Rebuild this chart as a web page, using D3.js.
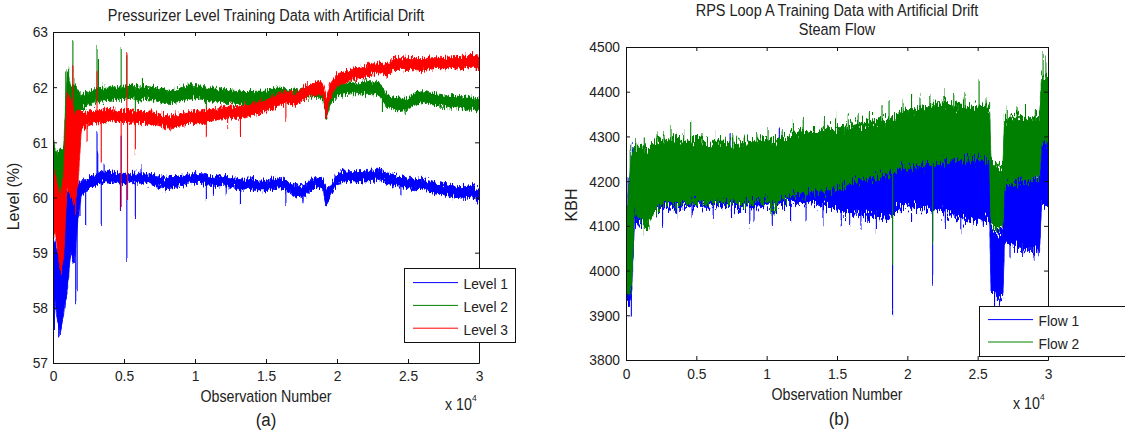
<!DOCTYPE html>
<html>
<head>
<meta charset="utf-8">
<script src="https://cdn.jsdelivr.net/npm/d3@7"></script>
<style>
  body { margin: 0; background: #fff; }
  svg { display: block; }
  text { font-family: "Liberation Sans", Arial, sans-serif; fill: #222; }
</style>
</head>
<body>
<svg id="fig" width="1125" height="432"></svg>
<script>
// ---------- shared axis values ----------
const xTicks = [0, 5000, 10000, 15000, 20000, 25000, 30000];
const xTickLabels = ["0", "0.5", "1", "1.5", "2", "2.5", "3"];

// ---------- (a) pressurizer level: sample grid with low/high envelope per series ----------
const levelObs = [0,250,500,750,1000,1250,1500,1750,
  2000,2500,3000,3500,4000,4500,5000,5500,6000,6500,7000,7500,8000,8500,9000,9500,
  10000,10500,11000,11500,12000,12500,13000,13500,14000,14500,15000,15500,16000,16500,
  17000,17500,18000,18500,19000,19250,19500,20000,20500,21000,21500,22000,22500,23000,
  23500,24000,24500,25000,25500,26000,26500,27000,27500,28000,28500,29000,29500,30000];

const level1Lo = [58.4,57.9,57.5,57.9,58.3,59.0,58.8,59.6,
  60.05,60.15,60.22,60.28,60.28,60.27,60.25,60.27,60.26,60.26,60.22,60.2,60.15,60.18,60.22,60.24,
  60.26,60.25,60.22,60.2,60.22,60.18,60.16,60.15,60.14,60.12,60.12,60.16,60.18,60.12,
  60.05,59.98,60.08,60.2,60.15,59.85,60.0,60.25,60.28,60.3,60.3,60.3,60.31,60.32,
  60.26,60.22,60.2,60.16,60.14,60.15,60.1,60.06,60.05,60.02,60.0,59.98,60.0,59.92];
const level1Hi = [59.3,59.1,58.9,59.6,60.1,60.3,60.4,60.3,
  60.3,60.35,60.42,60.48,60.47,60.45,60.42,60.44,60.44,60.43,60.42,60.38,60.35,60.37,60.4,60.42,
  60.44,60.43,60.4,60.38,60.4,60.36,60.35,60.33,60.34,60.3,60.3,60.34,60.36,60.3,
  60.25,60.2,60.3,60.38,60.34,60.15,60.2,60.43,60.46,60.47,60.47,60.47,60.48,60.5,
  60.45,60.42,60.38,60.35,60.34,60.33,60.3,60.26,60.24,60.22,60.2,60.2,60.22,60.15];

const level2Lo = [60.1,60.0,59.95,60.0,61.2,61.2,61.4,61.5,
  61.6,61.68,61.72,61.75,61.76,61.78,61.78,61.8,61.76,61.78,61.76,61.74,61.7,61.72,61.75,61.78,
  61.79,61.78,61.75,61.74,61.72,61.72,61.7,61.68,61.68,61.7,61.7,61.74,61.78,61.74,
  61.7,61.76,61.8,61.84,61.78,61.45,61.65,61.84,61.86,61.88,61.88,61.88,61.88,61.86,
  61.64,61.6,61.58,61.6,61.68,61.72,61.7,61.66,61.65,61.64,61.62,61.6,61.6,61.56];
const level2Hi = [61.05,60.8,60.85,60.9,62.3,62.0,62.1,61.95,
  61.85,61.92,61.96,62.0,62.0,62.0,62.02,62.04,62.0,62.02,62.0,61.98,61.94,61.96,61.99,62.02,
  62.03,62.02,61.99,61.98,61.96,61.95,61.94,61.92,61.92,61.93,61.93,61.97,62.0,61.97,
  61.93,61.98,62.02,62.06,62.0,61.75,61.9,62.05,62.07,62.08,62.08,62.1,62.1,62.08,
  61.86,61.82,61.8,61.8,61.9,61.94,61.9,61.88,61.86,61.85,61.84,61.82,61.82,61.78];

const level3Lo = [59.5,59.2,58.7,58.9,60.2,60.0,59.9,60.2,
  61.25,61.3,61.35,61.36,61.38,61.36,61.36,61.35,61.34,61.34,61.33,61.3,61.26,61.27,61.3,61.33,
  61.36,61.35,61.38,61.4,61.43,61.44,61.43,61.46,61.5,61.52,61.56,61.62,61.68,61.7,
  61.66,61.74,61.82,61.88,61.86,61.5,61.8,62.02,62.08,62.12,62.15,62.2,62.24,62.26,
  62.2,62.32,62.32,62.3,62.32,62.3,62.32,62.34,62.33,62.34,62.35,62.34,62.36,62.3];
const level3Hi = [60.6,60.3,60.0,60.4,61.9,61.8,61.5,61.6,
  61.55,61.55,61.58,61.6,61.6,61.58,61.58,61.57,61.56,61.56,61.55,61.52,61.48,61.49,61.52,61.55,
  61.58,61.57,61.6,61.62,61.65,61.66,61.64,61.67,61.7,61.73,61.77,61.84,61.9,61.92,
  61.88,61.96,62.04,62.1,62.08,61.8,62.05,62.24,62.28,62.32,62.35,62.38,62.42,62.46,
  62.4,62.54,62.54,62.52,62.52,62.52,62.53,62.54,62.54,62.55,62.56,62.56,62.6,62.56];

// isolated excursions: [observation, extreme value]
const level1Spikes = [[100,57.6],[400,57.5],[900,58.2],[1600,58.1],[1700,58.3],[1900,59.7],[2300,59.5],
  [3100,61.2],[3150,60.8],[3400,59.5],[3600,60.6],[4750,59.8],[4800,61.1],[5200,58.85],[5800,59.65],
  [6200,60.55],[10800,59.93],[11300,60.05],[12200,60.05],[13200,59.9],[16400,59.88],[17600,59.95],
  [19200,59.83],[23000,60.55],[24500,60.05]];
const level2Spikes = [[50,61.05],[900,62.3],[1100,62.35],[1250,61.2],[1400,62.83],[3100,62.73],[3200,62.5],
  [4800,62.7],[5200,62.55],[5800,61.3],[6300,62.2],[10800,61.5],[19200,61.42],[23200,61.55],[24800,61.5]];
const level3Spikes = [[600,58.6],[1000,61.9],[1400,62.4],[1600,59.7],[2400,61.0],[3100,62.3],[3400,60.6],
  [4800,59.8],[5200,62.6],[5250,59.95],[5800,60.8],[8300,61.2],[10800,61.1],[12300,61.3],[13200,61.15],
  [16400,61.4],[19200,61.45],[29500,62.62]];

// ---------- (b) steam flow ----------
const flowObs = [0,200,400,600,800,1000,1500,
  2000,2500,3000,3500,4000,4500,5000,5500,6000,6500,7000,7500,8000,8500,9000,9500,
  10000,10500,11000,11500,12000,12500,13000,13500,14000,14500,15000,15500,16000,16500,
  17000,17500,18000,18500,19000,19500,20000,20500,21000,21500,22000,22500,23000,23500,
  24000,24500,25000,25500,25850,25950,26500,26800,26900,27500,28000,28500,29000,29400,29550,30000];

const flow1Lo = [3930,3920,3950,4105,4100,4105,4115,
  4130,4140,4140,4138,4140,4142,4145,4142,4140,4145,4145,4145,4140,4142,4142,4145,
  4145,4135,4148,4150,4150,4150,4148,4150,4145,4140,4135,4130,4128,4125,
  4122,4120,4118,4120,4125,4140,4145,4142,4140,4140,4135,4130,4125,4120,
  4115,4112,4110,4112,4115,3950,3935,3940,4060,4055,4050,4045,4045,4040,4150,4150];
const flow1Hi = [4100,4180,4260,4280,4270,4275,4270,
  4280,4285,4280,4285,4280,4280,4285,4280,4275,4280,4280,4275,4275,4280,4280,4285,
  4285,4280,4285,4285,4290,4285,4280,4280,4280,4275,4270,4260,4255,4255,
  4250,4250,4250,4250,4255,4260,4265,4265,4265,4268,4270,4270,4265,4265,
  4260,4255,4255,4250,4250,4090,4085,4090,4210,4205,4200,4200,4205,4205,4300,4290];

const flow2Lo = [3950,3945,3960,4140,4120,4110,4095,
  4130,4150,4150,4145,4150,4150,4155,4150,4150,4155,4155,4155,4150,4150,4155,4160,
  4155,4140,4160,4165,4170,4170,4175,4180,4175,4180,4185,4190,4195,4200,
  4205,4205,4210,4215,4220,4230,4230,4232,4235,4238,4240,4245,4245,4245,
  4248,4250,4250,4250,4250,4100,4090,4095,4190,4195,4200,4200,4205,4210,4290,4280];
const flow2Hi = [4100,4180,4260,4280,4270,4280,4270,
  4290,4295,4290,4300,4290,4290,4295,4290,4285,4290,4290,4285,4285,4290,4290,4295,
  4295,4290,4300,4300,4310,4315,4310,4310,4315,4320,4320,4320,4325,4330,
  4330,4335,4340,4340,4345,4355,4360,4360,4365,4370,4370,4380,4375,4370,
  4370,4365,4370,4368,4368,4250,4230,4240,4340,4345,4345,4340,4345,4345,4440,4430];

const flow1Spikes = [[150,4210],[380,3895],[450,4285],[1100,4095],[2600,4100],[3600,4120],[4700,4115],
  [6200,4120],[7400,4305],[7500,4115],[8800,4105],[9100,4110],[10400,4100],[10900,4318],[11700,4115],
  [12800,4110],[14000,4108],[15300,4100],[15900,4098],[16700,4100],[17800,4095],[18950,3908],
  [20300,4115],[21800,3975],[22700,4095],[23800,4090],[24700,4098],[25400,4100],[25700,4290],
  [26200,3925],[26600,3930],[27300,4030],[28200,4035],[29000,4030],[29300,4030]];
const flow2Spikes = [[300,4270],[700,4295],[1300,4085],[1300,4300],[2200,4305],[2700,4310],[3200,4320],
  [4100,4312],[4600,4335],[5400,4305],[6300,4308],[7600,4305],[8400,4300],[9300,4310],[10100,4320],
  [10300,4120],[10600,4125],[11100,4318],[11900,4330],[12600,4335],[13400,4330],[14100,4340],
  [14900,4345],[15800,4345],[16500,4350],[17300,4355],[18200,4365],[18700,4380],[18950,4010],
  [19700,4370],[20300,4385],[20900,4390],[21600,4395],[21800,4060],[22600,4405],[23300,4395],
  [24100,4400],[25100,4430],[25600,4385],[27100,4360],[27800,4365],[28400,4370],[29100,4360],
  [29650,4480],[29850,4470]];

const levelTicks = [57, 58, 59, 60, 61, 62, 63];
const flowTicks = [3800, 3900, 4000, 4100, 4200, 4300, 4400, 4500];

// horizontal text proportion of the figure's typeface
const K = 0.89;

const svg = d3.select("#fig");
const defs = svg.append("defs");

// Dense sensor traces are drawn as envelopes; a column-wise vertical
// displacement gives their edges the ragged look of a densely sampled signal.
function traceTexture(id, scale, freq) {
  const f = defs.append("filter").attr("id", id)
    .attr("filterUnits", "userSpaceOnUse").attr("x", 0).attr("y", 0)
    .attr("width", 1125).attr("height", 432)
    .attr("color-interpolation-filters", "sRGB");
  f.append("feTurbulence").attr("type", "fractalNoise").attr("baseFrequency", freq)
    .attr("numOctaves", 2).attr("seed", 7).attr("result", "n");
  f.append("feColorMatrix").attr("in", "n").attr("type", "matrix")
    .attr("values", "0 0 0 0 0.5  0 1 0 0 0  0 0 0 0 0  0 0 0 0 1").attr("result", "m");
  f.append("feDisplacementMap").attr("in", "SourceGraphic").attr("in2", "m")
    .attr("scale", scale).attr("xChannelSelector", "R").attr("yChannelSelector", "G");
}

// text placed at (x, y) with the narrow proportions used throughout the figure
function label(parent, x, y, str, size, anchor) {
  return parent.append("text")
    .attr("transform", `translate(${x},${y}) scale(${K},1)`)
    .attr("text-anchor", anchor || "start")
    .style("font-size", size + "px")
    .text(str);
}

function drawPanel(p) {
  const x = d3.scaleLinear().domain([0, 30000]).range([p.left, p.right]);
  const y = d3.scaleLinear().domain(p.yDomain).range([p.bottom, p.top]);
  const g = svg.append("g");

  const clipId = "clip-" + p.id;
  defs.append("clipPath").attr("id", clipId)
    .append("rect").attr("x", p.left).attr("y", p.top)
    .attr("width", p.right - p.left).attr("height", p.bottom - p.top);
  traceTexture("tex-" + p.id, p.texScale, p.texFreq);

  const plot = g.append("g").attr("clip-path", `url(#${clipId})`)
    .append("g").attr("filter", `url(#tex-${p.id})`);

  p.series.forEach(s => {
    const area = d3.area()
      .x((d, i) => x(s.obs[i]))
      .y0((d, i) => y(s.lo[i]))
      .y1((d, i) => y(s.hi[i]));
    plot.append("path")
      .attr("d", area(s.obs))
      .attr("fill", s.color)
      .attr("stroke", s.color)
      .attr("stroke-width", 0.8)
      .attr("stroke-linejoin", "round");
    const mid = d3.scaleLinear().domain(s.obs).range(s.obs.map((o, i) => (s.lo[i] + s.hi[i]) / 2));
    plot.selectAll(null).data(s.spikes).join("line")
      .attr("x1", d => x(d[0])).attr("x2", d => x(d[0]))
      .attr("y1", d => y(mid(d[0]))).attr("y2", d => y(d[1]))
      .attr("stroke", s.color).attr("stroke-width", 1.1);
  });

  // axes: labelled bottom/left, tick-only top/right, ticks pointing inward
  const tickLen = 4;
  const ax = g.append("g").attr("class", "axes");
  ax.append("g").attr("transform", `translate(0,${p.bottom})`)
    .call(d3.axisBottom(x).tickValues(xTicks).tickFormat((d, i) => xTickLabels[i])
      .tickSizeInner(-tickLen).tickSizeOuter(0).tickPadding(p.xPad))
    .selectAll(".tick text").attr("transform", `scale(${K},1)`);
  ax.append("g").attr("transform", `translate(0,${p.top})`)
    .call(d3.axisTop(x).tickValues(xTicks).tickFormat("").tickSizeInner(-tickLen).tickSizeOuter(0));
  ax.append("g").attr("transform", `translate(${p.left},0)`)
    .call(d3.axisLeft(y).tickValues(p.yTicks).tickFormat(d3.format("d"))
      .tickSizeInner(-tickLen).tickSizeOuter(0).tickPadding(p.yPad))
    .selectAll(".tick text").attr("x", -p.yPad / K).attr("transform", `scale(${K},1)`);
  ax.append("g").attr("transform", `translate(${p.right},0)`)
    .call(d3.axisRight(y).tickValues(p.yTicks).tickFormat("").tickSizeInner(-tickLen).tickSizeOuter(0));
  ax.selectAll(".domain").attr("stroke", "#111").attr("stroke-width", 1);
  ax.selectAll(".tick line").attr("stroke", "#111");
  ax.selectAll(".tick text").style("font-size", "15.5px").attr("fill", "#222")
    .style("font-family", '"Liberation Sans", Arial, sans-serif');

  const cx = (p.left + p.right) / 2;
  p.title.forEach((t, i) => label(g, cx, p.titleY[i], t, 16.3, "middle"));
  label(g, cx, p.xLabelY, "Observation Number", 16, "middle");
  g.append("text")
    .attr("transform", `translate(${p.yLabelX},${p.yLabelMid}) rotate(-90)`)
    .attr("text-anchor", "middle").style("font-size", "16px").text(p.yLabel);
  const mult = label(g, p.multX, p.multY, "", 16, "start");
  mult.append("tspan").text("x 10");
  mult.append("tspan").attr("dy", -9).style("font-size", "9.5px").text("4");
  label(g, cx + p.captionDx, p.captionY, p.caption, 19, "middle");

  // legend
  const L = p.legend;
  g.append("rect").attr("x", L.x + 0.5).attr("y", L.y + 0.5).attr("width", L.w).attr("height", L.h)
    .attr("fill", "#fff").attr("stroke", "#111").attr("stroke-width", 1);
  p.series.forEach((s, i) => {
    const cy = L.y + L.firstRow + i * L.rowGap;
    g.append("line").attr("x1", L.x + 9).attr("x2", L.x + 54)
      .attr("y1", cy).attr("y2", cy).attr("stroke", s.color).attr("stroke-width", 1);
    label(g, L.x + 59.5, cy + 6.5, s.name, 15.5, "start");
  });
}

drawPanel({
  id: "level", left: 53, right: 479, top: 32, bottom: 363,
  yDomain: [57, 63], yTicks: levelTicks, texScale: 12, texFreq: "0.9 0.15",
  xPad: 7, yPad: 5,
  title: ["Pressurizer Level Training Data with Artificial Drift"], titleY: [20.5],
  xLabelY: 402, yLabel: "Level (%)", yLabelX: 18.5, yLabelMid: 196.5,
  multX: 445, multY: 410, caption: "(a)", captionY: 426, captionDx: 0,
  legend: { x: 404, y: 268, w: 111, h: 74, firstRow: 14.6, rowGap: 22.8 },
  series: [
    { name: "Level 1", color: "#0000ff", obs: levelObs, lo: level1Lo, hi: level1Hi, spikes: level1Spikes },
    { name: "Level 2", color: "#008000", obs: levelObs, lo: level2Lo, hi: level2Hi, spikes: level2Spikes },
    { name: "Level 3", color: "#ff0000", obs: levelObs, lo: level3Lo, hi: level3Hi, spikes: level3Spikes }
  ]
});

drawPanel({
  id: "flow", left: 626, right: 1048, top: 47, bottom: 360,
  yDomain: [3800, 4500], yTicks: flowTicks, texScale: 26, texFreq: "0.9 0.12",
  xPad: 7.5, yPad: 6,
  title: ["RPS Loop A Training Data with Artificial Drift", "Steam Flow"], titleY: [15.5, 34.5],
  xLabelY: 400, yLabel: "KBH", yLabelX: 577, yLabelMid: 205,
  multX: 1013, multY: 408.5, caption: "(b)", captionY: 424.5, captionDx: 2,
  legend: { x: 979, y: 306, w: 160, h: 50, firstRow: 13.6, rowGap: 22.4 },
  series: [
    { name: "Flow 1", color: "#0000ff", obs: flowObs, lo: flow1Lo, hi: flow1Hi, spikes: flow1Spikes },
    { name: "Flow 2", color: "#008000", obs: flowObs, lo: flow2Lo, hi: flow2Hi, spikes: flow2Spikes }
  ]
});
</script>
</body>
</html>
